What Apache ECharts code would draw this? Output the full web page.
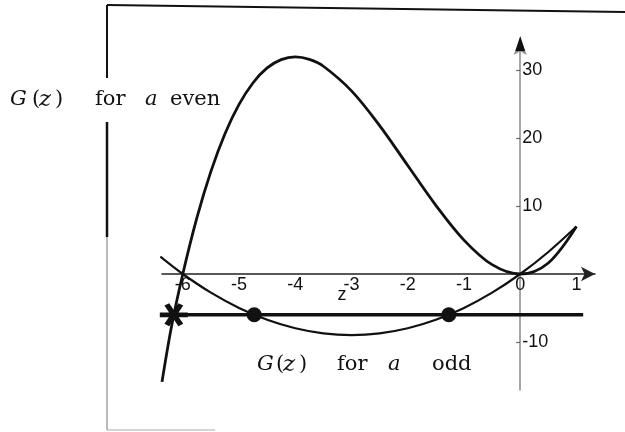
<!DOCTYPE html>
<html>
<head>
<meta charset="utf-8">
<script src="https://cdn.jsdelivr.net/npm/echarts@6/dist/echarts.min.js"></script>
<style>
  html, body { margin: 0; padding: 0; background: #fff; }
  #chart { width: 625px; height: 432px; }
</style>
</head>
<body>
<div id="chart"></div>
<script>
// G(z) for even a: sampled points (z, G)
const zEven = [-6.37, -6.2, -6, -5.75, -5.5, -5.25, -5, -4.75, -4.5, -4.25, -4, -3.75, -3.5, -3, -2.5, -2, -1.5, -1, -0.5, 0, 0.5, 1];
const gEven = [-15.9, -7.69, 0, 8.27, 15.13, 20.67, 25, 28.2, 30.38, 31.6, 32, 31.64, 30.63, 27, 21.88, 16, 10.13, 5, 1.38, 0, 1.63, 7];

// G(z) for odd a
const zOdd = [-6.4, -6, -5.5, -5, -4.5, -4, -3.5, -3, -2.5, -2, -1.5, -1, -0.5, 0, 0.5, 1];
const gOdd = [2.56, 0, -2.75, -5, -6.75, -8, -8.75, -9, -8.75, -8, -6.75, -5, -2.75, 0, 3.25, 7];

// horizontal level and its crossings
const levelZ = [-6.23, 1.12];
const levelG = -6;
const oddRootsZ = [-4.73, -1.27];
const evenRootZ = -6.16;

// axes
const xTicks = [-6, -5, -4, -3, -2, -1, 0, 1];
const yTicks = [30, 20, 10, -10];
const xRange = [-6.37, 1.33];
const yRange = [-17.1, 34.5];

const pairs = (xs, ys) => xs.map((x, i) => [x, ys[i]]);

// bold asterisk built from three bars
const asterisk = 'path://M0,40L100,40L100,60L0,60Z' +
  'M33.66,1.34L83.66,87.94L66.34,97.94L16.34,11.34Z' +
  'M83.66,11.34L33.66,97.94L16.34,87.94L66.34,1.34Z';

const serif = '"DejaVu Serif", "Liberation Serif", serif';
const sans = '"Liberation Sans", Arial, sans-serif';
function word(text, x, y, italic, size) {
  return {
    type: 'text', x: x, y: y, z: 50,
    style: {
      text: text,
      font: (italic ? 'italic ' : '') + (size || 21) + 'px ' + serif,
      fill: '#111',
      verticalAlign: 'middle',
      align: 'left'
    }
  };
}
function seg(x1, y1, x2, y2, color, w) {
  return { type: 'line', z: 40, shape: { x1: x1, y1: y1, x2: x2, y2: y2 },
    style: { stroke: color, lineWidth: w } };
}

const gridBox = { left: 162, right: 30, top: 40, bottom: 42 };
const chartH = 432;

const chart = echarts.init(document.getElementById('chart'), null, { renderer: 'canvas' });

const option = {
  backgroundColor: '#fff',
  animation: false,
  grid: gridBox,
  xAxis: {
    type: 'value', min: xRange[0], max: xRange[1], position: 'bottom',
    axisLine: {
      onZero: false, symbol: ['none', 'arrow'], symbolSize: [11, 14],
      lineStyle: { color: '#222', width: 1.5 }
    },
    axisTick: { show: false },
    axisLabel: {
      customValues: xTicks, margin: 2,
      fontFamily: sans, fontSize: 18, color: '#111'
    },
    splitLine: { show: false }
  },
  yAxis: {
    type: 'value', min: yRange[0], max: yRange[1], position: 'left',
    axisLine: {
      onZero: false, symbol: ['none', 'arrow'], symbolSize: [10, 15],
      lineStyle: { color: '#8a8a8a', width: 1.5 }
    },
    axisTick: { show: true, customValues: yTicks, length: 4, lineStyle: { color: '#666', width: 1.2 } },
    axisLabel: {
      customValues: yTicks, inside: true, margin: 2,
      fontFamily: sans, fontSize: 18, color: '#111'
    },
    splitLine: { show: false }
  },
  series: [
    {
      name: 'G(z) for a even', type: 'line', smooth: 0.35, showSymbol: false,
      data: pairs(zEven, gEven),
      lineStyle: { color: '#111', width: 2.8 }, z: 3
    },
    {
      name: 'G(z) for a odd', type: 'line', smooth: 0.35, showSymbol: false,
      data: pairs(zOdd, gOdd),
      lineStyle: { color: '#111', width: 2.2 }, z: 3
    },
    {
      name: 'level', type: 'line', showSymbol: false,
      data: levelZ.map(z => [z, levelG]),
      lineStyle: { color: '#111', width: 3.5 }, z: 4
    },
    {
      name: 'odd crossings', type: 'scatter', symbol: 'circle', symbolSize: 15,
      data: oddRootsZ.map(z => [z, levelG]),
      itemStyle: { color: '#111', opacity: 1 }, z: 5
    },
    {
      name: 'even crossing', type: 'scatter', symbol: asterisk, symbolSize: [28, 23],
      data: [[evenRootZ, levelG]],
      itemStyle: { color: '#111', opacity: 1 }, z: 5
    }
  ],
  graphic: [
    // frame lines
    seg(107, 5, 625, 12, '#111', 2),
    seg(107, 5, 107, 78, '#111', 2),
    seg(107, 122, 107, 237, '#111', 2.5),
    seg(107, 237, 107, 430, '#777', 1),
    seg(107, 430, 215, 430, '#aaa', 1),
    // curve labels
    word('G', 10, 100, true), word('(', 32, 100, false), word('z', 39, 100, true, 23),
    word(')', 55, 100, false), word('for', 95, 100, false), word('a', 145, 100, true),
    word('even', 170, 100, false),
    word('G', 257, 365, true), word('(', 276, 365, false), word('z', 283, 365, true, 23),
    word(')', 299, 365, false), word('for', 337, 365, false), word('a', 388, 365, true),
    word('odd', 432, 365, false),
    // axis name
    {
      type: 'text', x: 342, y: 295, z: 50,
      style: { text: 'z', font: '18px ' + sans, fill: '#111',
        align: 'center', verticalAlign: 'middle' }
    }
  ]
};

chart.setOption(option);

// move both axes so they cross at the origin, labels included
const originPx = chart.convertToPixel({ gridIndex: 0 }, [0, 0]);
const yTipPx = chart.convertToPixel({ gridIndex: 0 }, [0, yRange[1]]);
chart.setOption({
  xAxis: { offset: originPx[1] - (chartH - gridBox.bottom) },
  yAxis: { offset: gridBox.left - originPx[0] },
  graphic: option.graphic.concat([{
    type: 'polygon', z: 60,
    shape: { points: [[originPx[0], yTipPx[1] - 4], [originPx[0] - 5, yTipPx[1] + 11], [originPx[0] + 5, yTipPx[1] + 11]] },
    style: { fill: '#111' }
  }])
});
</script>
</body>
</html>
